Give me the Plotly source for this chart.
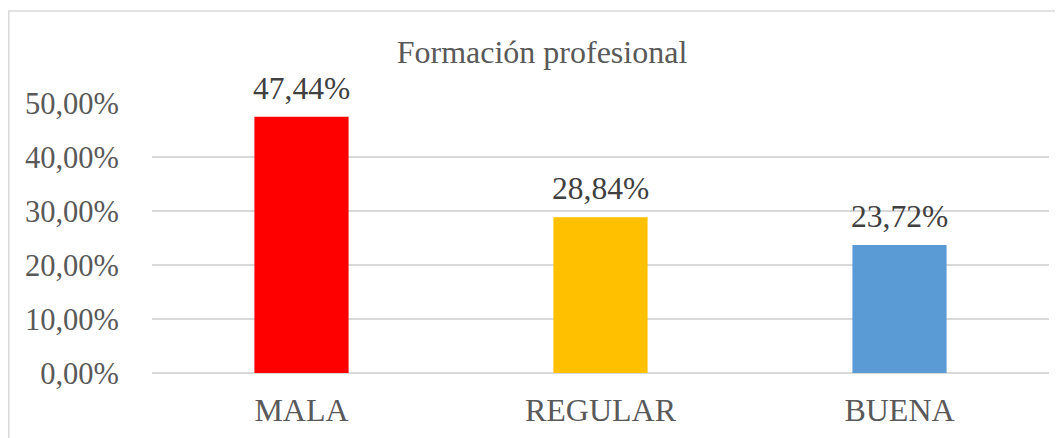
import plotly.graph_objects as go

categories = ['MALA', 'REGULAR', 'BUENA']
percentages = [47.44, 28.84, 23.72]
bar_colors = ['#FF0000', '#FFC000', '#5B9BD5']
y_ticks = [0, 10, 20, 30, 40, 50]
y_tick_labels = [f'{v:.2f}%'.replace('.', ',') for v in y_ticks]

# the page body adds an 8px offset, so the figure is 8px smaller than the window
W, H = 1055, 430
ml, mr, mt, mb = 144, 14, 95, 65
pw, ph = W - ml - mr, H - mt - mb
FONT = 'Liberation Serif'

fig = go.Figure()

fig.add_trace(go.Bar(
    x=categories,
    y=percentages,
    marker=dict(color=bar_colors, line_width=0),
    width=0.315,
    hoverinfo='x+y',
))

# value labels above the bars
for cat, val in zip(categories, percentages):
    fig.add_annotation(
        x=cat, y=val, xref='x', yref='y',
        text=f'{val:.2f}%'.replace('.', ','),
        showarrow=False, yanchor='bottom', yshift=9,
        font=dict(family=FONT, size=31.5, color='#404040'),
    )

# chart-area border (left and top edges visible in the reference)
fig.add_shape(
    type='rect', xref='paper', yref='paper',
    x0=(0.75 - ml) / pw, x1=(W + 20 - ml) / pw,
    y0=-(H + 20 - mt - ph) / ph, y1=(H - mb - 3) / ph,
    line=dict(color='#D9D9D9', width=1.5), fillcolor='rgba(0,0,0,0)',
    layer='below',
)

fig.update_layout(
    width=W, height=H,
    margin=dict(l=ml, r=mr, t=mt, b=mb, autoexpand=False),
    paper_bgcolor='white',
    plot_bgcolor='white',
    showlegend=False,
    font=dict(family=FONT, size=32, color='#595959'),
    title=dict(
        text='Formación profesional',
        x=534 / W, xanchor='center', xref='container',
        y=1 - 44 / H, yanchor='middle', yref='container',
        font=dict(family=FONT, size=32, color='#595959'),
    ),
    xaxis=dict(
        showgrid=False, showline=False, zeroline=False,
        ticks='', ticklabelstandoff=15,
        tickfont=dict(family=FONT, size=32, color='#595959'),
        automargin=False,
    ),
    yaxis=dict(
        range=[0, 50],
        tickvals=y_ticks,
        ticktext=y_tick_labels,
        showgrid=True, gridcolor='#D9D9D9', gridwidth=1.5,
        zeroline=True, zerolinecolor='#D9D9D9', zerolinewidth=1.5,
        showline=False, ticks='',
        ticklabelstandoff=32,
        tickfont=dict(family=FONT, size=30.5, color='#595959'),
        automargin=False,
    ),
)

fig.write_html('out.html')
